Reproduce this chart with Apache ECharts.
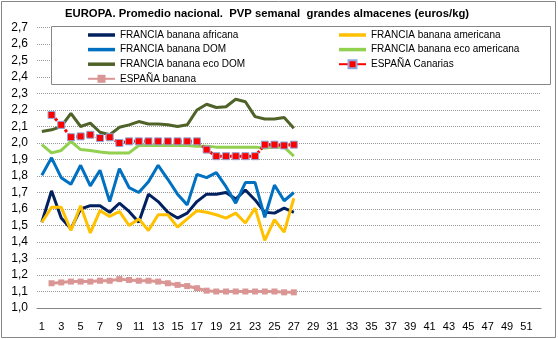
<!DOCTYPE html>
<html><head><meta charset="utf-8">
<script src="https://cdn.jsdelivr.net/npm/echarts@6/dist/echarts.min.js"></script>
<style>html,body{margin:0;padding:0;background:#fff}#c{width:558px;height:339px}</style>
</head><body><div id="c"></div>
<script>
var weeks = [];
for (var i = 1; i <= 52; i++) weeks.push(String(i));

var seriesNames = ['FRANCIA banana africana','FRANCIA banana americana','FRANCIA banana DOM','FRANCIA banana eco americana','FRANCIA banana eco DOM','ESPAÑA Canarias','ESPAÑA banana'];

var africana = [1.52,1.71,1.545,1.48,1.60,1.62,1.62,1.58,1.635,1.585,1.52,1.69,1.645,1.58,1.545,1.575,1.645,1.69,1.69,1.70,1.66,1.715,1.655,1.58,1.575,1.605,1.58];
var americana = [1.52,1.61,1.61,1.47,1.62,1.455,1.59,1.555,1.585,1.50,1.54,1.47,1.565,1.565,1.49,1.54,1.59,1.58,1.565,1.545,1.575,1.515,1.605,1.41,1.535,1.46,1.665];
var dom = [1.805,1.91,1.79,1.75,1.865,1.74,1.835,1.645,1.845,1.73,1.70,1.765,1.865,1.78,1.69,1.625,1.81,1.79,1.82,1.735,1.635,1.76,1.76,1.55,1.745,1.65,1.70];
var ecoAmericana = [1.99,1.94,1.955,2.01,1.96,1.955,1.945,1.94,1.94,1.94,1.985,1.985,1.985,1.985,1.985,1.985,1.98,1.98,1.975,1.975,1.975,1.975,1.975,1.97,1.975,1.975,1.92];
var ecoDom = [2.07,2.08,2.10,2.18,2.10,2.12,2.065,2.05,2.095,2.11,2.13,2.115,2.115,2.11,2.10,2.11,2.20,2.235,2.215,2.22,2.265,2.25,2.16,2.145,2.145,2.155,2.09];
var canarias = [null,2.17,2.11,2.035,2.04,2.05,2.03,2.035,2.0,2.01,2.01,2.01,2.01,2.01,2.01,2.01,2.01,1.96,1.92,1.92,1.92,1.92,1.92,1.99,1.99,1.985,1.99];
var espana = [null,1.15,1.155,1.16,1.16,1.16,1.165,1.165,1.175,1.17,1.165,1.165,1.16,1.15,1.14,1.133,1.12,1.105,1.10,1.10,1.10,1.10,1.10,1.10,1.10,1.095,1.095];

var colors = ['#002060','#FFC000','#0070C0','#92D050','#4F6228','#FF0000','#D99694'];
var values = [africana, americana, dom, ecoAmericana, ecoDom, canarias, espana];

var series = values.map(function (d, i) {
  var s = {
    name: seriesNames[i], type: 'line', data: d,
    symbol: 'none', smooth: false,
    lineStyle: {color: colors[i], width: 3},
    itemStyle: {color: colors[i]},
    animation: false
  };
  if (i === 5) {
    s.symbol = 'rect'; s.symbolSize = 7; s.showSymbol = true; s.showAllSymbol = true;
    s.lineStyle.type = [3, 2];
    s.itemStyle = {color: '#FF0000', borderColor: '#8EA9DB', borderWidth: 1};
  }
  if (i === 6) {
    s.symbol = 'rect'; s.symbolSize = 6; s.showSymbol = true; s.showAllSymbol = true;
    s.itemStyle = {color: colors[i]};
  }
  return s;
});

var font = 'Liberation Sans, Arial, sans-serif';
var legendText = {fontSize: 10, color: '#000', fontFamily: font};
var lineIcon = 'path://M0,0 L27,0 L27,3.5 L0,3.5 Z';
var canIcon = 'path://M0,2.5 L10,2.5 L10,0 L17,0 L17,2.5 L27,2.5 L27,5.5 L17,5.5 L17,7 L10,7 L10,5.5 L0,5.5 Z';

var chart = echarts.init(document.getElementById('c'), null, {renderer: 'canvas'});
chart.setOption({
  animation: false,
  backgroundColor: '#fff',
  title: {
    text: 'EUROPA. Promedio nacional.  PVP semanal  grandes almacenes (euros/kg)',
    left: 65, top: 8, padding: 0,
    textStyle: {fontSize: 11.3, fontWeight: 'bold', color: '#000', fontFamily: font}
  },
  grid: {left: 37, right: 17, top: 27.5, bottom: 31, containLabel: false},
  legend: [
    {
      data: [
        {name: seriesNames[0], icon: lineIcon},
        {name: seriesNames[2], icon: lineIcon},
        {name: seriesNames[4], icon: lineIcon},
        {name: seriesNames[6]}
      ],
      orient: 'vertical', left: 87, top: 30, padding: 0,
      itemWidth: 27, itemHeight: 10, itemGap: 4.6,
      textStyle: legendText, z: 5
    },
    {
      data: [
        {name: seriesNames[1], icon: lineIcon},
        {name: seriesNames[3], icon: lineIcon},
        {name: seriesNames[5], lineStyle: {type: 'solid'}}
      ],
      orient: 'vertical', left: 338, top: 30, padding: 0,
      itemWidth: 27, itemHeight: 10, itemGap: 4.6,
      textStyle: legendText, z: 5
    }
  ],
  graphic: [
    {type: 'rect', z: 3, shape: {x: 51.5, y: 26.5, width: 499, height: 58},
     style: {fill: '#fff', stroke: '#868686', lineWidth: 1}},
    {type: 'rect', z: 10, shape: {x: 1.5, y: 1.5, width: 554, height: 336},
     style: {fill: 'transparent', stroke: '#868686', lineWidth: 1}}
  ],
  xAxis: {
    type: 'category', data: weeks, boundaryGap: true,
    axisLine: {lineStyle: {color: '#868686', width: 1}},
    axisTick: {show: false},
    axisLabel: {interval: 1, fontSize: 11, color: '#000', fontFamily: font, margin: 13},
    splitLine: {show: false}
  },
  yAxis: {
    type: 'value', min: 1.0, max: 2.7, interval: 0.1,
    axisLine: {show: false}, axisTick: {show: false},
    axisLabel: {fontSize: 12, color: '#000', fontFamily: font, margin: 9,
      formatter: function (v) { return v.toFixed(1).replace('.', ','); }},
    splitLine: {lineStyle: {color: '#999', type: [1, 1], width: 1}}
  },
  series: series
});
</script>
</body></html>
